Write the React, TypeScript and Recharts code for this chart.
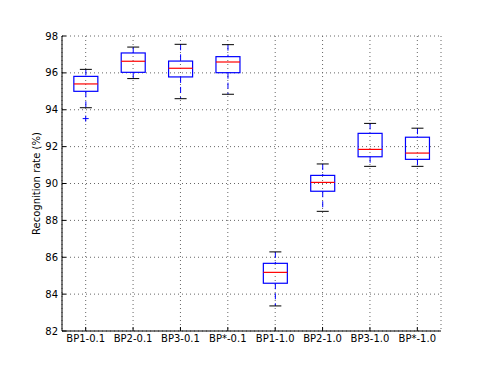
import {
  ComposedChart,
  Bar,
  Scatter,
  XAxis,
  YAxis,
  CartesianGrid,
} from "recharts";

const categories = [
  "BP1-0.1",
  "BP2-0.1",
  "BP3-0.1",
  "BP*-0.1",
  "BP1-1.0",
  "BP2-1.0",
  "BP3-1.0",
  "BP*-1.0",
];
const whiskerLow = [94.11, 95.69, 94.6, 94.84, 83.36, 88.49, 90.93, 90.93];
const q1 = [95.0, 96.03, 95.78, 96.01, 84.59, 89.58, 91.45, 91.31];
const median = [95.4, 96.63, 96.25, 96.59, 85.18, 90.06, 91.85, 91.65];
const q3 = [95.81, 97.08, 96.64, 96.88, 85.67, 90.44, 92.72, 92.51];
const whiskerHigh = [96.19, 97.4, 97.55, 97.53, 86.29, 91.06, 93.26, 93.0];
const outliers: (number | null)[] = [93.52, null, null, null, null, null, null, null];
const yTicks = [82, 84, 86, 88, 90, 92, 94, 96, 98];

const data = categories.map((name, i) => ({
  name,
  range: [whiskerLow[i], whiskerHigh[i]],
  lo: whiskerLow[i],
  hi: whiskerHigh[i],
  q1: q1[i],
  median: median[i],
  q3: q3[i],
  outlier: outliers[i],
}));

const FONT = "'DejaVu Sans', sans-serif";

// draws the box, whiskers and caps inside the whisker range bar
const BoxShape = (props: any) => {
  const { x, y, width, height, payload } = props;
  if (!payload) return null;
  const top = Math.min(y, y + height);
  const span = Math.abs(height);
  const perUnit = span / (payload.hi - payload.lo);
  const toY = (v: number) => top + (payload.hi - v) * perUnit;
  const cx = x + width / 2;
  const capW = width / 2;
  const yQ1 = toY(payload.q1);
  const yQ3 = toY(payload.q3);
  const yMed = toY(payload.median);
  const yHi = toY(payload.hi);
  const yLo = toY(payload.lo);
  return (
    <g>
      <line x1={cx} x2={cx} y1={yHi} y2={yQ3} stroke="#0000ff" strokeWidth={1} strokeDasharray="6 4" />
      <line x1={cx} x2={cx} y1={yQ1} y2={yLo} stroke="#0000ff" strokeWidth={1} strokeDasharray="6 4" />
      <line x1={cx - capW / 2} x2={cx + capW / 2} y1={yHi} y2={yHi} stroke="#000" strokeWidth={1} />
      <line x1={cx - capW / 2} x2={cx + capW / 2} y1={yLo} y2={yLo} stroke="#000" strokeWidth={1} />
      <rect x={x} y={yQ3} width={width} height={yQ1 - yQ3} fill="none" stroke="#0000ff" strokeWidth={1.2} />
      <line x1={x} x2={x + width} y1={yMed} y2={yMed} stroke="#ff0000" strokeWidth={1.2} />
    </g>
  );
};

const PlusShape = (props: any) => {
  const { cx, cy } = props;
  if (cx == null || cy == null) return null;
  return (
    <g>
      <line x1={cx - 3} x2={cx + 3} y1={cy} y2={cy} stroke="#0000ff" strokeWidth={1} />
      <line x1={cx} x2={cx} y1={cy - 3} y2={cy + 3} stroke="#0000ff" strokeWidth={1} />
    </g>
  );
};

export default function App() {
  return (
    <div style={{ position: "absolute", left: 0, top: 0, background: "#fff" }}>
      <ComposedChart
        width={491}
        height={368}
        data={data}
        margin={{ top: 36, right: 50, bottom: 0, left: 0 }}
        barCategoryGap="25%"
      >
        <CartesianGrid stroke="#666" strokeDasharray="1 3" />
        <XAxis
          dataKey="name"
          type="category"
          height={37}
          tickSize={-4}
          tickMargin={8}
          axisLine={{ stroke: "#000" }}
          tickLine={{ stroke: "#000" }}
          tick={{ fontSize: 10, fill: "#000", fontFamily: FONT }}
          interval={0}
        />
        <XAxis
          xAxisId="top"
          dataKey="name"
          type="category"
          orientation="top"
          height={0}
          tickSize={-4}
          tickFormatter={() => ""}
          axisLine={{ stroke: "#000" }}
          tickLine={{ stroke: "#000" }}
          interval={0}
        />
        <YAxis
          type="number"
          domain={[82, 98]}
          ticks={yTicks}
          width={62}
          tickSize={-4}
          tickMargin={8}
          axisLine={{ stroke: "#000" }}
          tickLine={{ stroke: "#000" }}
          tick={{ fontSize: 10, fill: "#000", fontFamily: FONT }}
          label={{
            value: "Recognition rate (%)",
            angle: -90,
            position: "center",
            dx: 5,
            style: { fontSize: 10, fill: "#000", fontFamily: FONT },
          }}
        />
        <YAxis
          yAxisId="right"
          type="number"
          orientation="right"
          domain={[82, 98]}
          ticks={yTicks}
          width={0}
          tickSize={-4}
          tickFormatter={() => ""}
          axisLine={{ stroke: "#000" }}
          tickLine={{ stroke: "#000" }}
        />
        <Bar dataKey="range" shape={BoxShape} isAnimationActive={false} />
        <Scatter dataKey="outlier" shape={PlusShape} isAnimationActive={false} />
      </ComposedChart>
    </div>
  );
}
